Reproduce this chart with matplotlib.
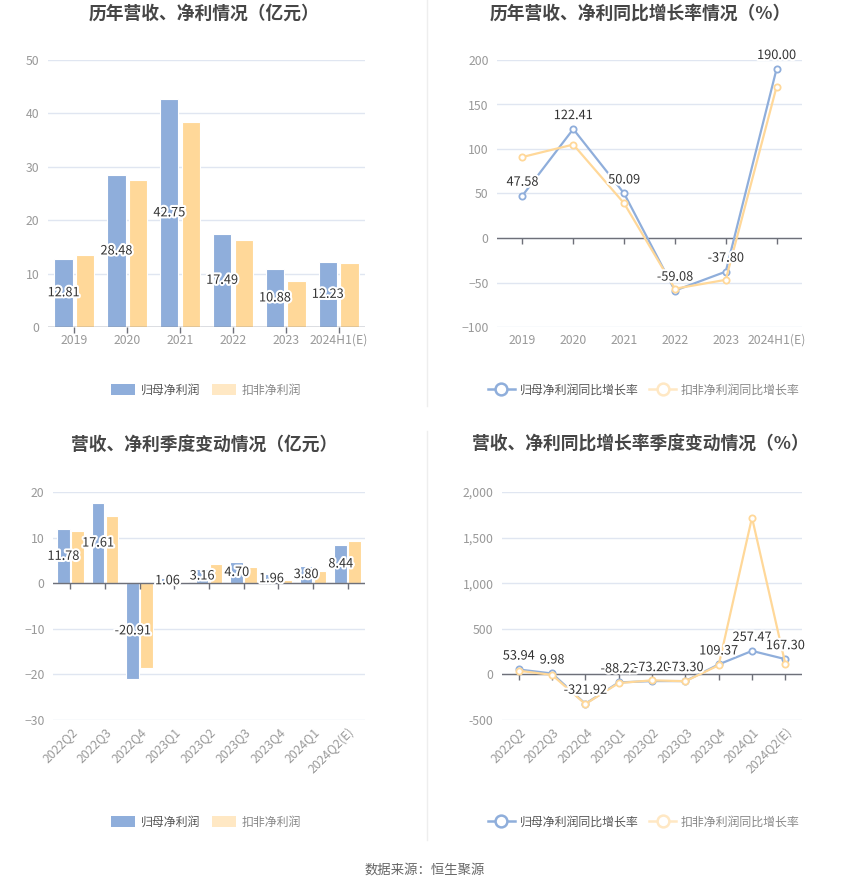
import matplotlib
matplotlib.use("Agg")
import matplotlib.pyplot as plt
import matplotlib.patheffects as pe
from matplotlib.lines import Line2D
from matplotlib.patches import Patch
import numpy as np

plt.rcParams['font.family'] = ['Noto Sans CJK SC', 'DejaVu Sans']

# ---------------- data ----------------
years = ['2019', '2020', '2021', '2022', '2023', '2024H1(E)']
net_profit = [12.81, 28.48, 42.75, 17.49, 10.88, 12.23]
deducted_profit = [13.5, 27.6, 38.3, 16.3, 8.6, 11.9]

net_growth = [47.58, 122.41, 50.09, -59.08, -37.80, 190.00]
deducted_growth = [91.0, 105.0, 39.0, -57.0, -47.0, 170.0]

quarters = ['2022Q2', '2022Q3', '2022Q4', '2023Q1', '2023Q2', '2023Q3', '2023Q4', '2024Q1', '2024Q2(E)']
q_net_profit = [11.78, 17.61, -20.91, 1.06, 3.16, 4.70, 1.96, 3.80, 8.44]
q_deducted_profit = [11.4, 14.7, -18.6, 0.3, 4.3, 3.5, 0.7, 2.7, 9.2]

q_net_growth = [53.94, 9.98, -321.92, -88.22, -73.20, -73.30, 109.37, 257.47, 167.30]
q_deducted_growth = [40.0, -5.0, -325.0, -95.0, -65.0, -75.0, 100.0, 1720.0, 115.0]

titles = ['历年营收、净利情况（亿元）', '历年营收、净利同比增长率情况（%）',
          '营收、净利季度变动情况（亿元）', '营收、净利同比增长率季度变动情况（%）']
bar_legend = ['归母净利润', '扣非净利润']
line_legend = ['归母净利润同比增长率', '扣非净利润同比增长率']
source_text = '数据来源：恒生聚源'

# ---------------- style ----------------
W, H = 850, 891
BLUE = '#8FAEDB'
ORANGE = '#FFD899'
BLUE_L = '#8FAEDB'
ORANGE_L = '#FFE8C4'
GRID = '#E0E6F1'
AXIS = '#6E7079'
TICK = '#999999'
LABEL = '#333333'
TITLE = '#464646'
TICKSIZE = 8.8

fig = plt.figure(figsize=(W / 100, H / 100), dpi=100)
fig.patch.set_facecolor('white')


def add_ax(x0, x1, ytop, ybot):
    return fig.add_axes([x0 / W, 1 - ybot / H, (x1 - x0) / W, (ybot - ytop) / H])


def style_ax(ax, ylim, yticks, ylabels=None):
    ax.set_ylim(*ylim)
    ax.set_yticks(yticks)
    if ylabels is not None:
        ax.set_yticklabels(ylabels)
    for s in ['top', 'right', 'left', 'bottom']:
        ax.spines[s].set_visible(False)
    ax.grid(axis='y', color=GRID, linewidth=1.0)
    ax.set_axisbelow(True)
    ax.tick_params(axis='y', length=0, labelsize=TICKSIZE, labelcolor=TICK, pad=6)
    ax.tick_params(axis='x', length=0, labelsize=TICKSIZE, labelcolor=TICK, pad=5)


def zero_axis(ax, n):
    ax.axhline(0, color=AXIS, linewidth=1.0, zorder=3)
    ax.plot(np.arange(n), np.zeros(n), linestyle='none', marker=3,
            markersize=4.5, color=AXIS, markeredgewidth=1.0, zorder=3, clip_on=False)


stroke = [pe.withStroke(linewidth=3, foreground='white')]


def fig_text(x, y, s, **kw):
    fig.text(x / W, 1 - y / H, s, **kw)


# ---------- chart 1 ----------
ax1 = add_ax(48, 365, 60, 327)
x = np.arange(len(years))
bw = 0.35
off = 0.205
ax1.bar(x - off, net_profit, bw, color=BLUE, edgecolor='white', linewidth=0.8, zorder=2)
ax1.bar(x + off, deducted_profit, bw, color=ORANGE, edgecolor='white', linewidth=0.8, zorder=2)
ax1.set_xlim(-0.5, len(years) - 0.5)
style_ax(ax1, (0, 50), [0, 10, 20, 30, 40, 50])
ax1.set_xticks(x)
ax1.set_xticklabels(years)
zero_axis(ax1, len(years))
for i, v in enumerate(net_profit):
    ax1.text(i - off, v / 2, f'{v:.2f}', ha='center', va='center', fontsize=9.2,
             color=LABEL, path_effects=stroke, zorder=5)

# ---------- chart 2 ----------
ax2 = add_ax(497, 802, 60, 327)
ax2.plot(x, net_growth, color=BLUE, linewidth=1.6, marker='o', markersize=4.5,
         markerfacecolor='white', markeredgewidth=1.3, zorder=4)
ax2.plot(x, deducted_growth, color=ORANGE, linewidth=1.6, marker='o', markersize=4.5,
         markerfacecolor='white', markeredgewidth=1.3, zorder=5)
ax2.set_xlim(-0.5, len(years) - 0.5)
style_ax(ax2, (-100, 200), [-100, -50, 0, 50, 100, 150, 200])
ax2.set_xticks(x)
ax2.set_xticklabels(years)
zero_axis(ax2, len(years))
for i, v in enumerate(net_growth):
    ax2.annotate(f'{v:.2f}', (i, v), xytext=(0, 5), textcoords='offset points',
                 ha='center', va='bottom', fontsize=9.2, color=LABEL,
                 path_effects=stroke, zorder=6)

# ---------- chart 3 ----------
ax3 = add_ax(53, 365, 492, 720)
xq = np.arange(len(quarters))
bw3 = 0.36
off3 = 0.2
ax3.bar(xq - off3, q_net_profit, bw3, color=BLUE, edgecolor='white', linewidth=0.8, zorder=2)
ax3.bar(xq + off3, q_deducted_profit, bw3, color=ORANGE, edgecolor='white', linewidth=0.8, zorder=2)
ax3.set_xlim(-0.5, len(quarters) - 0.5)
style_ax(ax3, (-30, 20), [-30, -20, -10, 0, 10, 20])
ax3.set_xticks(xq)
ax3.set_xticklabels(quarters, rotation=45, ha='right', rotation_mode='anchor')
ax3.tick_params(axis='x', pad=4)
zero_axis(ax3, len(quarters))
for i, v in enumerate(q_net_profit):
    ax3.text(i - off3, v / 2, f'{v:.2f}', ha='center', va='center', fontsize=9.2,
             color=LABEL, path_effects=stroke, zorder=5)

# ---------- chart 4 ----------
ax4 = add_ax(502, 802, 492, 720)
ax4.plot(xq, q_net_growth, color=BLUE, linewidth=1.6, marker='o', markersize=4.5,
         markerfacecolor='white', markeredgewidth=1.3, zorder=4)
ax4.plot(xq, q_deducted_growth, color=ORANGE, linewidth=1.6, marker='o', markersize=4.5,
         markerfacecolor='white', markeredgewidth=1.3, zorder=5)
ax4.set_xlim(-0.5, len(quarters) - 0.5)
style_ax(ax4, (-500, 2000), [-500, 0, 500, 1000, 1500, 2000],
         ['-500', '0', '500', '1,000', '1,500', '2,000'])
ax4.set_xticks(xq)
ax4.set_xticklabels(quarters, rotation=45, ha='right', rotation_mode='anchor')
ax4.tick_params(axis='x', pad=4)
zero_axis(ax4, len(quarters))
for i, v in enumerate(q_net_growth):
    ax4.annotate(f'{v:.2f}', (i, v), xytext=(0, 5), textcoords='offset points',
                 ha='center', va='bottom', fontsize=9.2, color=LABEL,
                 path_effects=stroke, zorder=6)

# ---------- titles ----------
for (cx, cy), t in zip([(204, 14), (640, 14), (204, 445), (640, 445)], titles):
    fig_text(cx, cy, t, ha='center', va='center', fontsize=12.8, fontweight='bold', color=TITLE)


# ---------- legends ----------
def bar_leg(cx, cy):
    handles = [Patch(facecolor=BLUE_L, edgecolor='none'),
               Patch(facecolor=ORANGE_L, edgecolor='none')]
    leg = fig.legend(handles, bar_legend, loc='center', bbox_to_anchor=(cx / W, 1 - cy / H),
                     ncol=2, frameon=False, fontsize=8.6, handlelength=2.0, handleheight=1.1,
                     columnspacing=1.0, handletextpad=0.5)
    for t, c in zip(leg.get_texts(), ['#555555', '#888888']):
        t.set_color(c)


def line_leg(cx, cy):
    handles = [Line2D([], [], color=BLUE_L, linewidth=1.8, marker='o', markersize=8.5,
                      markerfacecolor='white', markeredgewidth=1.8),
               Line2D([], [], color=ORANGE_L, linewidth=1.8, marker='o', markersize=8.5,
                      markerfacecolor='white', markeredgewidth=1.8)]
    leg = fig.legend(handles, line_legend, loc='center', bbox_to_anchor=(cx / W, 1 - cy / H),
                     ncol=2, frameon=False, fontsize=8.6, handlelength=2.2,
                     columnspacing=0.9, handletextpad=0.45)
    for t, c in zip(leg.get_texts(), ['#555555', '#888888']):
        t.set_color(c)


bar_leg(206, 390)
line_leg(644, 390)
bar_leg(206, 822)
line_leg(644, 822)

# ---------- dividers & source ----------
fig.add_artist(Line2D([427 / W, 427 / W], [1 - 0 / H, 1 - 406 / H], color='#EEEEEE', linewidth=1))
fig.add_artist(Line2D([427 / W, 427 / W], [1 - 431 / H, 1 - 840 / H], color='#EEEEEE', linewidth=1))
fig_text(425, 870, source_text, ha='center', va='center', fontsize=9.6, color='#666666')

fig.savefig('out.png', dpi=100, facecolor='white')
